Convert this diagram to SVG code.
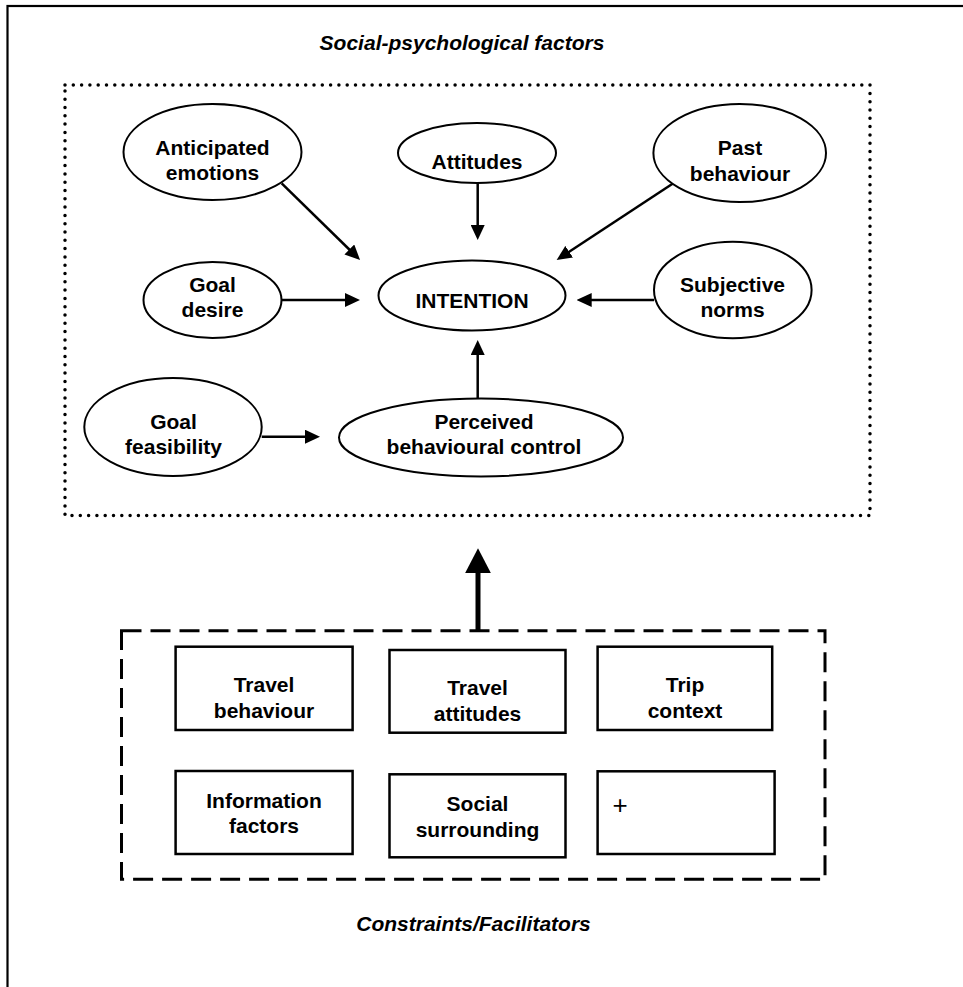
<svg xmlns="http://www.w3.org/2000/svg" width="963" height="987" viewBox="0 0 963 987">
<style>
.t{font-family:"Liberation Sans",Arial,sans-serif;font-size:21px;font-weight:bold;fill:#000;text-anchor:middle}
.ti{font-family:"Liberation Sans",Arial,sans-serif;font-size:21px;font-weight:bold;font-style:italic;fill:#000;text-anchor:middle}
.e{fill:#fff;stroke:#000;stroke-width:2}
.b{fill:#fff;stroke:#000;stroke-width:2.5}
.c{fill:none;stroke:#000;stroke-width:2.5}
</style>
<defs>
<marker id="ah" viewBox="0 0 15 14" refX="5" refY="7" markerWidth="15" markerHeight="14" markerUnits="userSpaceOnUse" orient="auto">
<path d="M0,0 L15,7 L0,14 Z" fill="#000"/>
</marker>
<marker id="ahb" viewBox="0 0 25 26" refX="10" refY="13" markerWidth="25" markerHeight="26" markerUnits="userSpaceOnUse" orient="auto">
<path d="M0,0 L25,13 L0,26 Z" fill="#000"/>
</marker>
</defs>
<rect x="0" y="0" width="963" height="987" fill="#fff"/>
<rect id="frame" x="7.5" y="6" width="1000" height="1000" fill="none" stroke="#000" stroke-width="2.2"/>
<text class="ti" x="462" y="50">Social-psychological factors</text>
<rect id="social-box" x="65" y="85" width="805" height="430.5" fill="none" stroke="#000" stroke-width="3.5" stroke-linecap="round" stroke-dasharray="0 8.3"/>

<g id="connectors">
<path class="c" d="M281.7,183.3 L352.9,253" marker-end="url(#ah)"/>
<path class="c" d="M477.7,183 L477.7,230" marker-end="url(#ah)"/>
<path class="c" d="M673.3,183.3 L565,254.5" marker-end="url(#ah)"/>
<path class="c" d="M281.7,300 L350,300" marker-end="url(#ah)"/>
<path class="c" d="M654,300 L586.7,300" marker-end="url(#ah)"/>
<path class="c" d="M477.7,398.5 L477.7,350" marker-end="url(#ah)"/>
<path class="c" d="M261.7,436.7 L310,436.7" marker-end="url(#ah)"/>
<path d="M478,630.7 L478,563.3" fill="none" stroke="#000" stroke-width="5" marker-end="url(#ahb)"/>
</g>

<g id="anticipated-emotions">
<ellipse class="e" cx="212.5" cy="152" rx="89" ry="48"/>
<text class="t" x="212.5" y="155">Anticipated</text>
<text class="t" x="212.5" y="180">emotions</text>
</g>
<g id="attitudes">
<ellipse class="e" cx="477" cy="153" rx="79" ry="30"/>
<text class="t" x="477" y="169">Attitudes</text>
</g>
<g id="past-behaviour">
<ellipse class="e" cx="739.7" cy="153" rx="86.3" ry="49"/>
<text class="t" x="740" y="155">Past</text>
<text class="t" x="740" y="181">behaviour</text>
</g>
<g id="goal-desire">
<ellipse class="e" cx="212.5" cy="300" rx="69" ry="38"/>
<text class="t" x="212.5" y="292">Goal</text>
<text class="t" x="212.5" y="317">desire</text>
</g>
<g id="intention">
<ellipse class="e" cx="472" cy="295.5" rx="93.5" ry="35"/>
<text class="t" x="472" y="308">INTENTION</text>
</g>
<g id="subjective-norms">
<ellipse class="e" cx="732.8" cy="290" rx="78.8" ry="48.3"/>
<text class="t" x="732.5" y="292">Subjective</text>
<text class="t" x="732.5" y="317">norms</text>
</g>
<g id="goal-feasibility">
<ellipse class="e" cx="173" cy="427" rx="88.7" ry="49"/>
<text class="t" x="173.5" y="429">Goal</text>
<text class="t" x="173.5" y="454">feasibility</text>
</g>
<g id="pbc">
<ellipse class="e" cx="481" cy="437.5" rx="142" ry="39"/>
<text class="t" x="484" y="429">Perceived</text>
<text class="t" x="484" y="454">behavioural control</text>
</g>

<rect id="constraints-box" x="121.5" y="630.7" width="703.5" height="248.6" fill="none" stroke="#000" stroke-width="3" stroke-dasharray="20 9"/>

<g id="travel-behaviour">
<rect class="b" x="175.6" y="646.7" width="177" height="83.3"/>
<text class="t" x="264" y="692">Travel</text>
<text class="t" x="264" y="718">behaviour</text>
</g>
<g id="travel-attitudes">
<rect class="b" x="389.5" y="650" width="176" height="82.7"/>
<text class="t" x="477.5" y="695">Travel</text>
<text class="t" x="477.5" y="720.7">attitudes</text>
</g>
<g id="trip-context">
<rect class="b" x="597.6" y="646.7" width="174.6" height="83.3"/>
<text class="t" x="685" y="692">Trip</text>
<text class="t" x="685" y="718">context</text>
</g>
<g id="information-factors">
<rect class="b" x="175.6" y="771" width="177" height="83"/>
<text class="t" x="264" y="808.3">Information</text>
<text class="t" x="264" y="832.7">factors</text>
</g>
<g id="social-surrounding">
<rect class="b" x="389.5" y="774.3" width="176" height="83"/>
<text class="t" x="477.5" y="811">Social</text>
<text class="t" x="477.5" y="836.7">surrounding</text>
</g>
<g id="plus">
<rect class="b" x="597.6" y="771.3" width="177" height="82.7"/>
<text x="612.5" y="814" font-family="'Liberation Sans',Arial,sans-serif" font-size="26" fill="#000">+</text>
</g>

<text class="ti" x="473.5" y="931">Constraints/Facilitators</text>
</svg>
